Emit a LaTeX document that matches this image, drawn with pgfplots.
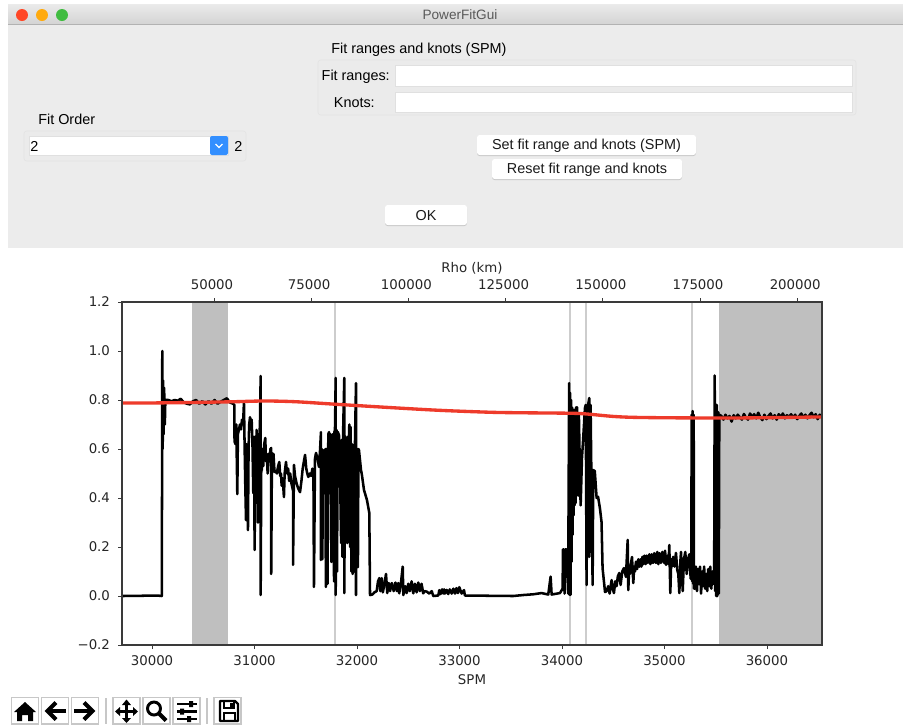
\documentclass[border=0pt]{standalone}
\usepackage{pgfplots}
\usepackage{fontspec}
\setmainfont{Liberation Sans}
\newfontfamily\mpl{DejaVu Sans}
\pgfplotsset{compat=1.18}
\definecolor{wingray}{HTML}{ECECEC}
\definecolor{grpline}{HTML}{E3E3E3}
\definecolor{band}{HTML}{BFBFBF}
\definecolor{vl}{HTML}{CDCDCD}
\definecolor{fit}{HTML}{EE3B2B}
\definecolor{frame}{HTML}{3A3A3A}
\newcommand\gui{\fontsize{10.8pt}{12pt}\selectfont}
\newcommand\btn[5]{\fill[black!22,rounded corners=2pt] (#1,#2+1) rectangle (#3,#4+1);
  \fill[white,rounded corners=2pt] (#1,#2) rectangle (#3,#4);
  \node[text=black!90,font=\gui] at ({(#1+#3)/2},{(#2+#4)/2+1}) {#5};}
\newcommand\tbox[2]{\draw[black!22,fill=white,line width=.8pt] (#1,697.5) rectangle (#2,724);}
\begin{document}
\begin{tikzpicture}[x=0.75pt,y=-0.75pt]
\path[use as bounding box] (0,0) rectangle (903,726);
\fill[white] (0,0) rectangle (903,726);
% window
\fill[wingray] (8,24) rectangle (903,248);
\shade[top color=black!8,bottom color=black!17] (8,4) rectangle (903,24);
\draw[black!30,line width=.8pt] (8,24.5) -- (903,24.5);
\fill[red!70!orange!85] (22,15) circle (6);
\fill[orange!70!yellow!95] (42,15) circle (6);
\fill[green!65!black!75] (62,15) circle (6);
\node[text=black!65,font=\fontsize{10.2pt}{12pt}\selectfont] at (460,15) {PowerFitGui};
\node[anchor=west,inner sep=0,font=\gui] at (331,49.5) {Fit ranges and knots (SPM)};
\draw[grpline,fill=black!8,rounded corners=2pt] (318,60) rectangle (856,115);
\node[anchor=east,inner sep=0,font=\gui] at (390,77) {Fit ranges:};
\node[anchor=east,inner sep=0,font=\gui] at (375,103) {Knots:};
\draw[black!12,fill=white] (395,65) rectangle (852,86);
\draw[black!12,fill=white] (395,92) rectangle (852,112);
\node[anchor=west,inner sep=0,font=\gui] at (38,119) {Fit Order};
\draw[grpline,fill=black!8,rounded corners=2pt] (24,131) rectangle (246,161);
\draw[black!12,fill=white] (29,136) rectangle (228,155);
\fill[blue!55!cyan!80!white,rounded corners=1.5pt] (210,136) rectangle (228,155);
\draw[white,line width=.9pt] (215.5,144) -- (219,147.5) -- (222.5,144);
\node[anchor=west,inner sep=0,font=\gui] at (30,146.5) {2};
\node[anchor=west,inner sep=0,font=\gui] at (234,146.5) {2};
\btn{477}{135}{696}{155}{Set fit range and knots (SPM)}
\btn{492}{159}{682}{179}{Reset fit range and knots}
\btn{385}{205}{467}{225}{OK}
% toolbar
\tbox{11.5}{38.5}\tbox{41.5}{68.5}\tbox{71.5}{98.5}\tbox{113}{140}\tbox{143}{170}\tbox{173}{200}\tbox{214}{241}
\draw[black!22,line width=.8pt] (106,698) -- (106,724) (207,698) -- (207,724);
\fill (25,702) -- (36,712) -- (33,712) -- (33,721) -- (28,721) -- (28,715) -- (22,715) -- (22,721) -- (17,721) -- (17,712) -- (14,712) -- cycle;
\draw[line width=3pt] (66,711) -- (48,711);
\draw[line width=3pt,line join=miter] (56,702.5) -- (47.5,711) -- (56,719.5);
\draw[line width=3pt] (74,711) -- (92,711);
\draw[line width=3pt,line join=miter] (84,702.5) -- (92.5,711) -- (84,719.5);
\draw[line width=2pt] (126.5,703) -- (126.5,720) (117,711.5) -- (136,711.5);
\fill (126.5,699.5) -- (131,705) -- (122,705) -- cycle (126.5,723) -- (131,718) -- (122,718) -- cycle
 (115,711.5) -- (120,707) -- (120,716) -- cycle (138,711.5) -- (133,707) -- (133,716) -- cycle;
\draw[line width=2.2pt] (154,708.5) circle (6.5);
\draw[line width=3pt] (159,713.5) -- (166,720.5);
\draw[line width=1.6pt] (177,704) -- (197,704) (177,711.5) -- (197,711.5) (177,719) -- (197,719);
\fill (189,701) rectangle (193,707) (180,708.5) rectangle (184,714.5) (187,716) rectangle (191,722);
\draw[line width=1.8pt,line join=round] (220,701) -- (235,701) -- (238,704) -- (238,721) -- (220,721) -- cycle;
\draw[line width=1.5pt] (224,701) rectangle (234,708) (223.5,721) rectangle (234.5,713);
\fill (230,702.5) rectangle (232.5,706.5);
% main axis
\begin{axis}[
  at={(91.5pt,-483.75pt)},anchor=south west,
  scale only axis,width=525pt,height=257.25pt,
  xmin=29707,xmax=36537,ymin=-0.2,ymax=1.2,
  xtick={30000,31000,32000,33000,34000,35000,36000},
  xticklabels={30000,31000,32000,33000,34000,35000,36000},
  ytick={-0.2,0,0.2,0.4,0.6,0.8,1.0,1.2},
  yticklabels={−0.2,0.0,0.2,0.4,0.6,0.8,1.0,1.2},
  scaled x ticks=false,scaled y ticks=false,
  xtick pos=bottom,ytick pos=left,tick align=outside,
  major tick length=3pt,
  axis line style={draw=frame,line width=1pt},
  tick style={draw=frame,line width=.7pt},
  axis on top,
  tick label style={font=\mpl\fontsize{10pt}{12pt}\selectfont,text=black!85},
  xticklabel style={yshift=-1.5pt},
  yticklabel style={xshift=-2.5pt},
  xlabel={\mpl SPM},
  xlabel style={font=\mpl\fontsize{10pt}{12pt}\selectfont,text=black!85,yshift=0.5pt},
]
\addplot[fill=band,draw=none] coordinates {(30390,-0.2)(30390,1.2)(30741,1.2)(30741,-0.2)} -- cycle;
\addplot[fill=band,draw=none] coordinates {(35532,-0.2)(35532,1.2)(36537,1.2)(36537,-0.2)} -- cycle;
\addplot[vl,line width=1.5pt] coordinates {(31785,-0.2)(31785,1.2)};
\addplot[vl,line width=1.5pt] coordinates {(34078,-0.2)(34078,1.2)};
\addplot[vl,line width=1.5pt] coordinates {(34239,-0.2)(34239,1.2)};
\addplot[vl,line width=1.5pt] coordinates {(35273,-0.2)(35273,1.2)};
\addplot[black,line width=1.9pt,line join=round] coordinates {
(29707,0)(29900,0.001)(30050,0.002)(30095,0)(30098,0.5)(30100,1.0)(30104,0.6)(30108,0.88)(30112,0.66)(30118,0.85)(30125,0.70)(30130,0.80)
(30160,0.80)(30190,0.795)(30220,0.80)(30250,0.797)(30280,0.805)(30310,0.79)(30340,0.785)(30370,0.782)(30400,0.795)(30430,0.80)(30460,0.785)(30490,0.795)(30520,0.782)(30550,0.795)(30580,0.785)(30610,0.80)(30640,0.785)(30670,0.793)(30700,0.80)(30730,0.807)(30760,0.79)(30790,0.785)
(30803,0.78)(30805,0.63)(30815,0.62)(30822,0.70)(30832,0.416)(30838,0.66)(30848,0.68)(30858,0.70)(30868,0.68)(30878,0.72)(30888,0.70)(30897,0.79)(30903,0.62)(30910,0.45)(30917,0.31)(30922,0.62)(30929,0.40)(30936,0.269)(30942,0.60)(30948,0.70)(30956,0.73)(30965,0.68)(30972,0.72)(30980,0.62)(30988,0.42)(30995,0.65)(31001,0.188)(31007,0.60)(31013,0.38)(31020,0.678)(31028,0.60)(31034,0.30)(31040,0.40)(31047,0.65)(31053,0.70)(31060,0.898)(31060,0.004)(31066,0.55)(31072,0.514)(31078,0.60)(31085,0.53)(31095,0.62)(31105,0.645)(31112,0.55)(31120,0.58)(31128,0.50)(31137,0.58)(31148,0.55)(31155,0.60)(31163,0.604)(31163,0.09)(31170,0.584)(31178,0.54)(31185,0.58)(31195,0.506)(31205,0.51)(31218,0.50)(31230,0.53)(31242,0.547)(31250,0.49)(31258,0.50)(31265,0.45)(31275,0.48)(31287,0.404)(31294,0.50)(31307,0.547)(31318,0.50)(31328,0.52)(31338,0.47)(31348,0.50)(31360,0.46)(31376,0.43)(31376,0.127)(31385,0.535)(31395,0.49)(31410,0.461)(31425,0.44)(31444,0.424)(31458,0.47)(31470,0.52)(31482,0.55)(31493,0.576)(31505,0.52)(31515,0.50)(31525,0.486)(31540,0.50)(31552,0.49)(31565,0.52)(31575,0.486)(31580,0.037)
(31590,0.56)(31600,0.584)(31615,0.56)(31629,0.527)(31640,0.60)(31648,0.669)(31648,0.147)(31657,0.60)(31662,0.15)(31668,0.596)(31680,0.55)(31692,0.60)(31696,0.037)(31704,0.60)(31712,0.05)(31720,0.66)(31727,0.669)(31735,0.45)(31742,0.66)(31750,0.139)(31755,0.65)(31766,0.661)(31776,0.06)(31780,0.67)(31785,0.678)(31792,0.89)(31792,0.004)(31800,0.678)(31805,0.10)(31812,0.67)(31824,0.657)(31834,0.514)(31845,0.216)(31850,0.637)(31858,0.16)(31866,0.70)(31876,0.89)(31876,0.012)(31884,0.653)(31890,0.22)(31897,0.60)(31905,0.216)(31912,0.65)(31918,0.60)(31925,0.70)(31932,0.20)(31938,0.69)(31945,0.10)(31951,0.62)(31958,0.09)(31965,0.60)(31972,0.10)(31980,0.62)(31990,0.869)(31990,0.004)(32000,0.60)(32009,0.118)(32014,0.60)(32019,0.596)(32039,0.514)(32048,0.494)(32068,0.433)(32097,0.392)(32120,0.339)(32127,0.004)
(32150,0.006)(32170,0.015)(32192,0.02)(32205,0.06)(32218,0.073)(32228,0.02)(32241,0.073)(32252,0.015)(32268,0.05)(32283,0.09)(32295,0.012)(32310,0.053)(32322,0.02)(32340,0.053)(32358,0.02)(32375,0.055)(32390,0.02)(32403,0.053)(32412,0.011)(32428,0.05)(32446,0.12)(32452,0.004)(32470,0.04)(32485,0.012)(32500,0.05)(32515,0.02)(32533,0.06)(32549,0.011)(32565,0.05)(32582,0.015)(32598,0.055)(32614,0.02)(32630,0.05)(32646,0.011)(32660,0.02)(32680,0.018)(32705,0.01)(32729,0.02)(32744,0)(32793,0.002)(32803,0.024)(32815,0.008)(32830,0.027)(32842,0.01)(32850,0.027)(32858,0.01)(32875,0.025)(32890,0.008)(32905,0.027)(32924,0.01)(32940,0.03)(32956,0.01)(32970,0.032)(32985,0.012)(32998,0.036)(33021,0.01)(33044,0.024)(33053,0.002)
(33524,0)(33622,0.004)(33719,0.007)(33801,0.012)(33866,0.006)(33889,0.079)(33899,0.006)(33980,0.012)(34006,0.03)(34010,0.19)(34019,0.19)(34025,0.01)(34030,0.19)(34045,0.19)(34060,0.01)
(34070,0.869)(34072,0.005)(34078,0.83)(34083,0.005)(34088,0.80)(34093,0.14)(34098,0.77)(34103,0.25)(34108,0.76)(34113,0.33)(34118,0.76)(34123,0.37)(34128,0.75)(34133,0.38)(34138,0.77)(34143,0.41)(34148,0.77)(34158,0.41)(34165,0.74)(34175,0.50)(34182,0.37)(34195,0.563)(34205,0.63)(34224,0.767)(34232,0.78)(34240,0.045)(34250,0.767)(34266,0.808)(34266,0.16)(34275,0.40)(34279,0.78)(34299,0.045)(34305,0.514)(34320,0.51)(34338,0.40)(34352,0.405)(34370,0.359)(34386,0.302)(34396,0.114)(34420,0.016)
(34435,0.02)(34451,0.04)(34465,0.01)(34484,0.065)(34495,0.03)(34507,0.012)(34520,0.06)(34533,0.04)(34545,0.08)(34559,0.094)(34572,0.045)(34588,0.10)(34604,0.114)(34624,0.078)(34641,0.229)(34647,0.024)
(34655,0.11)(34663,0.09)(34672,0.13)(34683,0.159)(34690,0.10)(34696,0.053)(34704,0.12)(34712,0.10)(34722,0.14)(34733,0.11)(34745,0.15)(34755,0.12)(34765,0.15)(34775,0.12)(34785,0.16)(34794,0.13)(34805,0.165)(34815,0.13)(34825,0.165)(34838,0.135)(34852,0.17)(34863,0.13)(34875,0.17)(34888,0.135)(34900,0.175)(34917,0.135)(34930,0.18)(34940,0.13)(34952,0.175)(34965,0.135)(34980,0.18)(34996,0.135)(35006,0.185)(35015,0.127)(35030,0.165)(35040,0.13)(35047,0.208)(35057,0.012)(35066,0.15)(35073,0.12)(35085,0.16)(35098,0.12)(35112,0.176)(35125,0.106)(35135,0.09)(35145,0.012)(35155,0.14)(35161,0.18)(35170,0.10)(35178,0.02)(35190,0.15)(35203,0.18)(35217,0.09)(35230,0.15)(35242,0.17)(35256,0.07)
(35262,0.10)(35265,0.74)(35270,0.06)(35275,0.755)(35280,0.05)(35285,0.74)(35288,0.03)
(35297,0.03)(35307,0.12)(35317,0.02)(35327,0.11)(35337,0.05)(35347,0.12)(35357,0.01)(35367,0.10)(35377,0.04)(35387,0.12)(35397,0.03)(35407,0.09)(35417,0.02)(35427,0.11)(35437,0.04)(35447,0.12)(35457,0.03)(35467,0.10)(35477,0.05)(35485,0.10)
(35490,0.90)(35495,0.02)(35500,0.75)(35505,0)(35510,0.78)(35515,0)(35525,0.75)(35530,0.01)(35535,0.74)
(35555,0.735)(35575,0.72)(35595,0.74)(35615,0.725)(35635,0.735)(35655,0.712)(35675,0.738)(35695,0.725)(35715,0.74)(35735,0.73)(35755,0.72)(35775,0.743)(35795,0.728)(35815,0.72)(35835,0.745)(35855,0.73)(35875,0.742)(35895,0.725)(35915,0.748)(35935,0.73)(35955,0.718)(35975,0.74)(35995,0.722)(36015,0.735)(36035,0.745)(36055,0.725)(36075,0.738)(36095,0.72)(36115,0.742)(36135,0.73)(36155,0.745)(36175,0.725)(36195,0.738)(36215,0.73)(36235,0.742)(36255,0.728)(36275,0.74)(36295,0.722)(36315,0.735)(36335,0.745)(36355,0.728)(36375,0.74)(36395,0.725)(36415,0.738)(36435,0.748)(36455,0.73)(36475,0.742)(36495,0.722)(36515,0.74)(36537,0.73)
};
\addplot[fit,line width=2.5pt,smooth] coordinates {
(29707,0.788)(30000,0.788)(30400,0.79)(30800,0.793)(31100,0.796)(31400,0.793)(31780,0.783)(32290,0.77)(32800,0.758)(33300,0.75)(33590,0.748)(34078,0.746)(34240,0.743)(34500,0.733)(34727,0.729)(35215,0.727)(35800,0.727)(36537,0.731)
};
\end{axis}
% top axis
\begin{axis}[
  at={(91.5pt,-483.75pt)},anchor=south west,
  scale only axis,width=525pt,height=257.25pt,
  xmin=26337,xmax=206379,ymin=-0.2,ymax=1.2,
  axis x line*=top,axis y line=none,
  xtick={50000,75000,100000,125000,150000,175000,200000},
  xticklabels={50000,75000,100000,125000,150000,175000,200000},
  tick align=outside,major tick length=3pt,
  axis line style={draw=frame,line width=1pt,-},
  tick style={draw=frame,line width=.7pt},
  tick label style={font=\mpl\fontsize{10pt}{12pt}\selectfont,text=black!85},
  xticklabel style={yshift=2.5pt,xshift=-1.5pt},
  scaled x ticks=false,
  xlabel={\mpl Rho (km)},
  xlabel style={font=\mpl\fontsize{10pt}{12pt}\selectfont,text=black!85,yshift=-3pt},
]
\end{axis}
\end{tikzpicture}
\end{document}
